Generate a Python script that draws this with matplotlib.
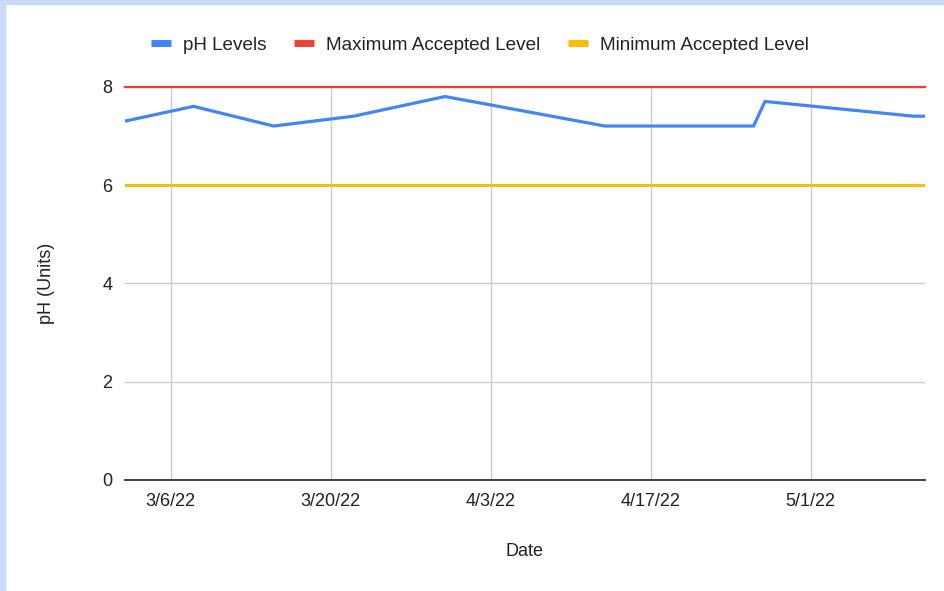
import pandas as pd
import matplotlib.pyplot as plt
import matplotlib.dates as mdates
from matplotlib.patches import Rectangle

plt.rcParams['font.family'] = ['Liberation Sans', 'DejaVu Sans']

# ----------------------
# Data
# ----------------------
dates = pd.to_datetime([
    "2022-03-02", "2022-03-08", "2022-03-15", "2022-03-22", "2022-03-30",
    "2022-04-13", "2022-04-26", "2022-04-27", "2022-05-10", "2022-05-11",
])
ph_levels = [7.3, 7.6, 7.2, 7.4, 7.8, 7.2, 7.2, 7.7, 7.4, 7.4]
max_level = 8
min_level = 6
tick_dates = pd.to_datetime(["2022-03-06", "2022-03-20", "2022-04-03", "2022-04-17", "2022-05-01"])
tick_labels = ["3/6/22", "3/20/22", "4/3/22", "4/17/22", "5/1/22"]
y_ticks = [0, 2, 4, 6, 8]

BLUE = "#4285F4"
RED = "#EA4335"
YELLOW = "#FBBC04"
BORDER = "#C9DAF8"

fig = plt.figure(figsize=(9.45, 5.91), dpi=100)
# light blue frame on top and left edge
fig.patches.append(Rectangle((0, 1 - 4 / 591), 1, 4 / 591, transform=fig.transFigure,
                             color=BORDER, zorder=0))
fig.patches.append(Rectangle((0, 0), 5 / 945, 1, transform=fig.transFigure,
                             color=BORDER, zorder=0))

ax = fig.add_axes([125 / 945, 1 - 480 / 591, 800 / 945, (480 - 86.7) / 591])

ax.plot(dates, ph_levels, color=BLUE, lw=2.3, label="pH Levels", zorder=3,
        solid_joinstyle="miter")
ax.plot(dates, [max_level] * len(dates), color=RED, lw=1.6,
        label="Maximum Accepted Level", zorder=3, clip_on=False)
ax.plot(dates, [min_level] * len(dates), color=YELLOW, lw=2.2,
        label="Minimum Accepted Level", zorder=3)

ax.set_xlim(dates[0], dates[-1])
ax.set_ylim(0, 8)
ax.set_yticks(y_ticks)
ax.set_xticks(tick_dates)
ax.set_xticklabels(tick_labels)

ax.grid(True, color="#cccccc", lw=1)
ax.set_axisbelow(True)
for s in ["top", "right", "left"]:
    ax.spines[s].set_visible(False)
ax.spines["bottom"].set_color("#333333")
ax.spines["bottom"].set_linewidth(1.3)
ax.tick_params(axis="both", length=0, labelsize=13, colors="#222222")
ax.tick_params(axis="x", pad=9)
ax.tick_params(axis="y", pad=9)

ax.set_xlabel("Date", fontsize=13, color="#222222")
ax.set_ylabel("pH (Units)", fontsize=13, color="#222222")
ax.xaxis.set_label_coords((525 - 125) / 800, (480 - 552) / 393.3)
ax.yaxis.set_label_coords((47 - 125) / 800, 0.5)
ax.xaxis.label.set_va("center")
ax.yaxis.label.set_va("center")

leg = fig.legend(loc="center", bbox_to_anchor=(480 / 945, 1 - 45 / 591), ncol=3,
                 frameon=False, fontsize=13.6, handlelength=1.05, handletextpad=0.65,
                 columnspacing=1.45)
for line in leg.get_lines():
    line.set_linewidth(5)
    line.set_solid_capstyle("butt")
for t in leg.get_texts():
    t.set_color("#222222")

fig.savefig("out.png", dpi=100)
